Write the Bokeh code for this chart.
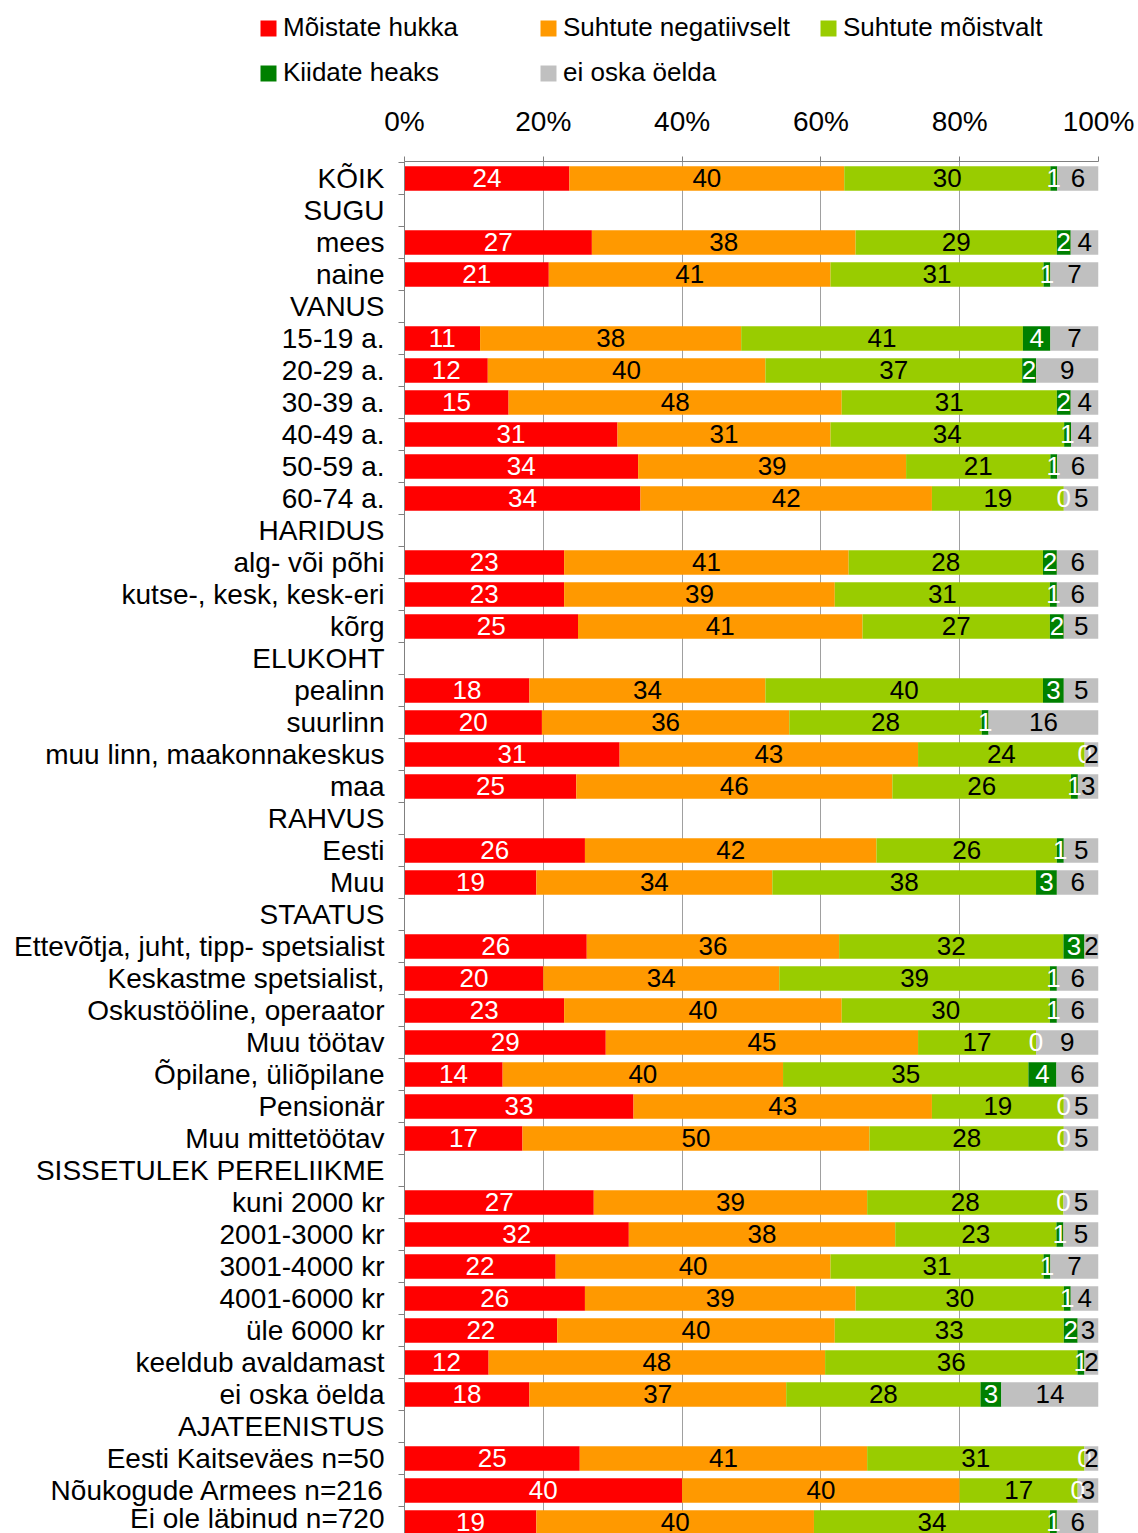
from bokeh.plotting import figure
from bokeh.models import (ColumnDataSource, Range1d, FixedTicker, NumeralTickFormatter,
                          Legend, LegendItem)
from bokeh.layouts import column
from bokeh.embed import file_html
from bokeh.resources import INLINE
from bokeh.core.properties import value

FONT = "Liberation Sans"

categories = [
    "KÕIK", "SUGU", "mees", "naine", "VANUS", "15-19 a.", "20-29 a.", "30-39 a.",
    "40-49 a.", "50-59 a.", "60-74 a.", "HARIDUS", "alg- või põhi",
    "kutse-, kesk, kesk-eri", "kõrg", "ELUKOHT", "pealinn", "suurlinn",
    "muu linn, maakonnakeskus", "maa", "RAHVUS", "Eesti", "Muu", "STAATUS",
    "Ettevõtja, juht, tipp- spetsialist", "Keskastme spetsialist,",
    "Oskustööline, operaator", "Muu töötav", "Õpilane, üliõpilane", "Pensionär",
    "Muu mittetöötav", "SISSETULEK PERELIIKME", "kuni 2000 kr", "2001-3000 kr",
    "3001-4000 kr", "4001-6000 kr", "üle 6000 kr", "keeldub avaldamast",
    "ei oska öelda", "AJATEENISTUS", "Eesti Kaitseväes n=50",
    "Nõukogude Armees n=216", "Ei ole läbinud n=720",
]

series = ["Mõistate hukka", "Suhtute negatiivselt", "Suhtute mõistvalt",
          "Kiidate heaks", "ei oska öelda"]
colors = ["#FF0000", "#FF9900", "#99CC00", "#008000", "#C0C0C0"]
label_colors = ["white", "black", "black", "white", "black"]

N = None
hukka = [24, N, 27, 21, N, 11, 12, 15, 31, 34, 34, N, 23, 23, 25, N, 18, 20, 31, 25,
         N, 26, 19, N, 26, 20, 23, 29, 14, 33, 17, N, 27, 32, 22, 26, 22, 12, 18, N,
         25, 40, 19]
negatiivselt = [40, N, 38, 41, N, 38, 40, 48, 31, 39, 42, N, 41, 39, 41, N, 34, 36, 43, 46,
                N, 42, 34, N, 36, 34, 40, 45, 40, 43, 50, N, 39, 38, 40, 39, 40, 48, 37, N,
                41, 40, 40]
moistvalt = [30, N, 29, 31, N, 41, 37, 31, 34, 21, 19, N, 28, 31, 27, N, 40, 28, 24, 26,
             N, 26, 38, N, 32, 39, 30, 17, 35, 19, 28, N, 28, 23, 31, 30, 33, 36, 28, N,
             31, 17, 34]
heaks = [1, N, 2, 1, N, 4, 2, 2, 1, 1, 0, N, 2, 1, 2, N, 3, 1, 0, 1,
         N, 1, 3, N, 3, 1, 1, 0, 4, 0, 0, N, 0, 1, 1, 1, 2, 1, 3, N,
         0, 0, 1]
ei_oska = [6, N, 4, 7, N, 7, 9, 4, 4, 6, 5, N, 6, 6, 5, N, 5, 16, 2, 3,
           N, 5, 6, N, 2, 6, 6, 9, 6, 5, 5, N, 5, 5, 7, 4, 3, 2, 14, N,
           2, 3, 6]

pct_ticks = [0, 0.2, 0.4, 0.6, 0.8, 1.0]

all_series = [hukka, negatiivselt, moistvalt, heaks, ei_oska]
n = len(categories)

# build stacked segments (shares of each row's total)
sources = []
for k in range(len(series)):
    sources.append(dict(y=[], left=[], right=[], mid=[], text=[]))
for i in range(n):
    vals = [s[i] for s in all_series]
    if vals[0] is None:
        continue
    tot = float(sum(vals))
    acc = 0.0
    for k, v in enumerate(vals):
        l = acc / tot
        acc += v
        r = acc / tot
        d = sources[k]
        d["y"].append(i)
        d["left"].append(l)
        d["right"].append(r)
        d["mid"].append((l + r) / 2)
        d["text"].append(str(v))

W = 1138
p = figure(width=W, height=1443, x_range=Range1d(0, 1),
           y_range=Range1d(start=42.345, end=-0.53),
           x_axis_location="above", toolbar_location=None, output_backend="svg",
           min_border_left=404, min_border_right=40, min_border_top=71,
           min_border_bottom=0)
p.outline_line_color = None

for k in range(len(series)):
    src = ColumnDataSource(sources[k])
    p.hbar(y="y", left="left", right="right", height=0.77, source=src,
           fill_color=colors[k], line_color=None)
for k in range(len(series)):
    src = ColumnDataSource(sources[k])
    p.text(x="mid", y="y", text="text", source=src, text_align="center",
           text_baseline="middle", text_color=label_colors[k],
           text_font=value(FONT), text_font_size="26px")

# top percent axis
xa = p.xaxis[0]
xa.ticker = FixedTicker(ticks=pct_ticks)
xa.formatter = NumeralTickFormatter(format="0%")
xa.major_tick_out = 5
xa.major_tick_in = 0
xa.minor_tick_line_color = None
xa.axis_line_color = "#808080"
xa.major_tick_line_color = "#808080"
xa.major_label_text_font = FONT
xa.major_label_text_font_size = "28px"
xa.major_label_text_color = "black"
xa.major_label_standoff = 20

# category axis
ya = p.yaxis[0]
ya.ticker = FixedTicker(ticks=list(range(n)),
                        minor_ticks=[i - 0.5 for i in range(n + 1)])
ya.major_label_overrides = {i: c for i, c in enumerate(categories)}
ya.major_tick_in = 0
ya.major_tick_out = 0
ya.minor_tick_in = 0
ya.minor_tick_out = 6
ya.minor_tick_line_color = "#808080"
ya.axis_line_color = "#808080"
ya.major_label_text_font = FONT
ya.major_label_text_font_size = "28px"
ya.major_label_text_color = "black"
ya.major_label_standoff = 14

p.xgrid.ticker = FixedTicker(ticks=pct_ticks)
p.xgrid.grid_line_color = "#A0A0A0"
p.ygrid.grid_line_color = None

# legend figure
lf = figure(width=W, height=90, x_range=Range1d(0, 1), y_range=Range1d(0, 1),
            x_axis_type=None, y_axis_type=None, toolbar_location=None,
            output_backend="svg", min_border_left=258, min_border_top=12,
            min_border_right=0, min_border_bottom=0)
lf.frame_align = False
lf.outline_line_color = None
items = []
for k in range(len(series)):
    r = lf.rect(x=[5], y=[5], width=1, height=1, fill_color=colors[k], line_color=None)
    items.append(LegendItem(label=series[k], renderers=[r]))
legend = Legend(items=items, location="top_left", orientation="horizontal", ncols=3,
                glyph_width=20, glyph_height=20, label_standoff=5, label_width=241,
                spacing=14, padding=0, margin=0, border_line_color=None,
                background_fill_alpha=0, label_text_font=FONT,
                label_text_font_size="26px", label_text_color="black")
lf.add_layout(legend)

layout = column(lf, p, spacing=0)
open("out.html", "w").write(file_html(layout, INLINE))
